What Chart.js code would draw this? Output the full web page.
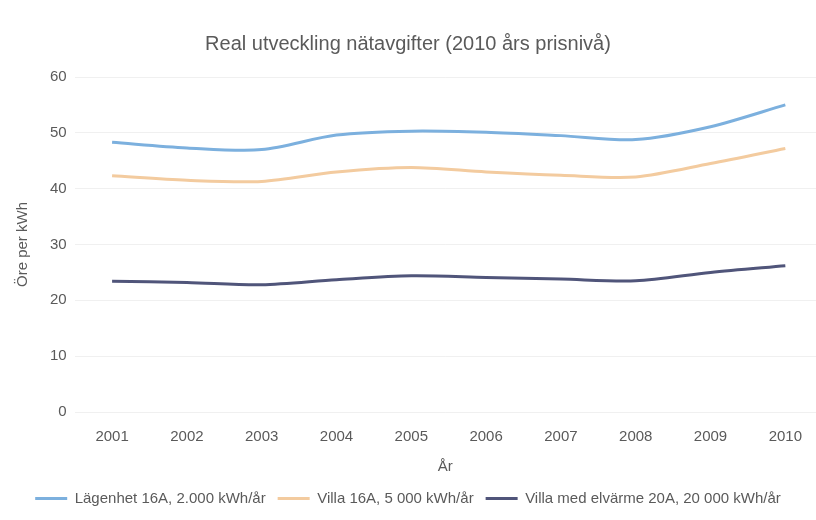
<!DOCTYPE html>
<html>
<head>
<meta charset="utf-8">
<script src="https://cdn.jsdelivr.net/npm/chart.js@4/dist/chart.umd.min.js"></script>
<style>
  html, body { margin: 0; padding: 0; background: #fff; overflow: hidden; }
  #wrap { width: 816px; height: 520px; }
</style>
</head>
<body>
<div id="wrap"><canvas id="chart" width="816" height="520"></canvas></div>
<script>
// År och reala nätavgifter, öre per kWh (2010 års prisnivå)
const years = [2001, 2002, 2003, 2004, 2005, 2006, 2007, 2008, 2009, 2010];
const lagenhet16A = [48.3, 47.3, 47.0, 49.6, 50.3, 50.1, 49.5, 48.8, 51.1, 55.0];
const villa16A = [42.3, 41.5, 41.3, 43.0, 43.8, 43.0, 42.4, 42.1, 44.5, 47.2];
const villaElvarme20A = [23.4, 23.2, 22.8, 23.7, 24.4, 24.1, 23.8, 23.5, 25.0, 26.2];
const seriesNames = [
  'Lägenhet 16A, 2.000 kWh/år',
  'Villa 16A, 5 000 kWh/år',
  'Villa med elvärme 20A, 20 000 kWh/år'
];
const yTicks = [0, 10, 20, 30, 40, 50, 60];

const colors = ['#7cb0de', '#f3cb9f', '#50557a'];
const textColor = '#5a5a5a';
const fontFamily = '"Liberation Sans", Arial, sans-serif';

const toPoints = (vals) => vals.map((v, i) => ({ x: years[i], y: v }));

const ctx = document.getElementById('chart').getContext('2d');
new Chart(ctx, {
  type: 'line',
  data: {
    datasets: [lagenhet16A, villa16A, villaElvarme20A].map((vals, i) => ({
      label: seriesNames[i],
      data: toPoints(vals),
      borderColor: colors[i],
      backgroundColor: colors[i],
      borderWidth: 3,
      pointRadius: 0,
      tension: 0.3,
      fill: false
    }))
  },
  options: {
    responsive: false,
    animation: false,
    layout: { padding: { left: 0, right: 0, top: 0, bottom: 4 } },
    plugins: {
      title: {
        display: true,
        text: 'Real utveckling nätavgifter (2010 års prisnivå)',
        color: textColor,
        font: { family: fontFamily, size: 20, weight: 'normal' },
        padding: { top: 32, bottom: 21 }
      },
      legend: {
        position: 'bottom',
        labels: {
          color: textColor,
          font: { family: fontFamily, size: 15 },
          usePointStyle: true,
          pointStyle: 'line',
          pointStyleWidth: 32,
          padding: 12
        }
      },
      tooltip: { enabled: false }
    },
    scales: {
      x: {
        type: 'linear',
        min: 2000.5,
        max: 2010.41,
        afterBuildTicks: (axis) => { axis.ticks = years.map(v => ({ value: v })); },
        ticks: {
          color: textColor,
          font: { family: fontFamily, size: 15 },
          maxRotation: 0,
          autoSkip: false,
          callback: (v) => String(v),
          padding: 8
        },
        grid: { display: false },
        border: { display: false },
        title: {
          display: true,
          text: 'År',
          color: textColor,
          font: { family: fontFamily, size: 15 },
          padding: { top: 4, bottom: 3 }
        }
      },
      y: {
        min: 0,
        max: 60,
        afterBuildTicks: (axis) => { axis.ticks = yTicks.map(v => ({ value: v })); },
        ticks: {
          color: textColor,
          font: { family: fontFamily, size: 15 },
          padding: 8
        },
        grid: { color: 'rgba(0,0,0,0.06)', drawTicks: false },
        border: { display: false },
        title: {
          display: true,
          text: 'Öre per kWh',
          color: textColor,
          font: { family: fontFamily, size: 15 },
          padding: { top: 14, bottom: 10 }
        }
      }
    }
  }
});
</script>
</body>
</html>
